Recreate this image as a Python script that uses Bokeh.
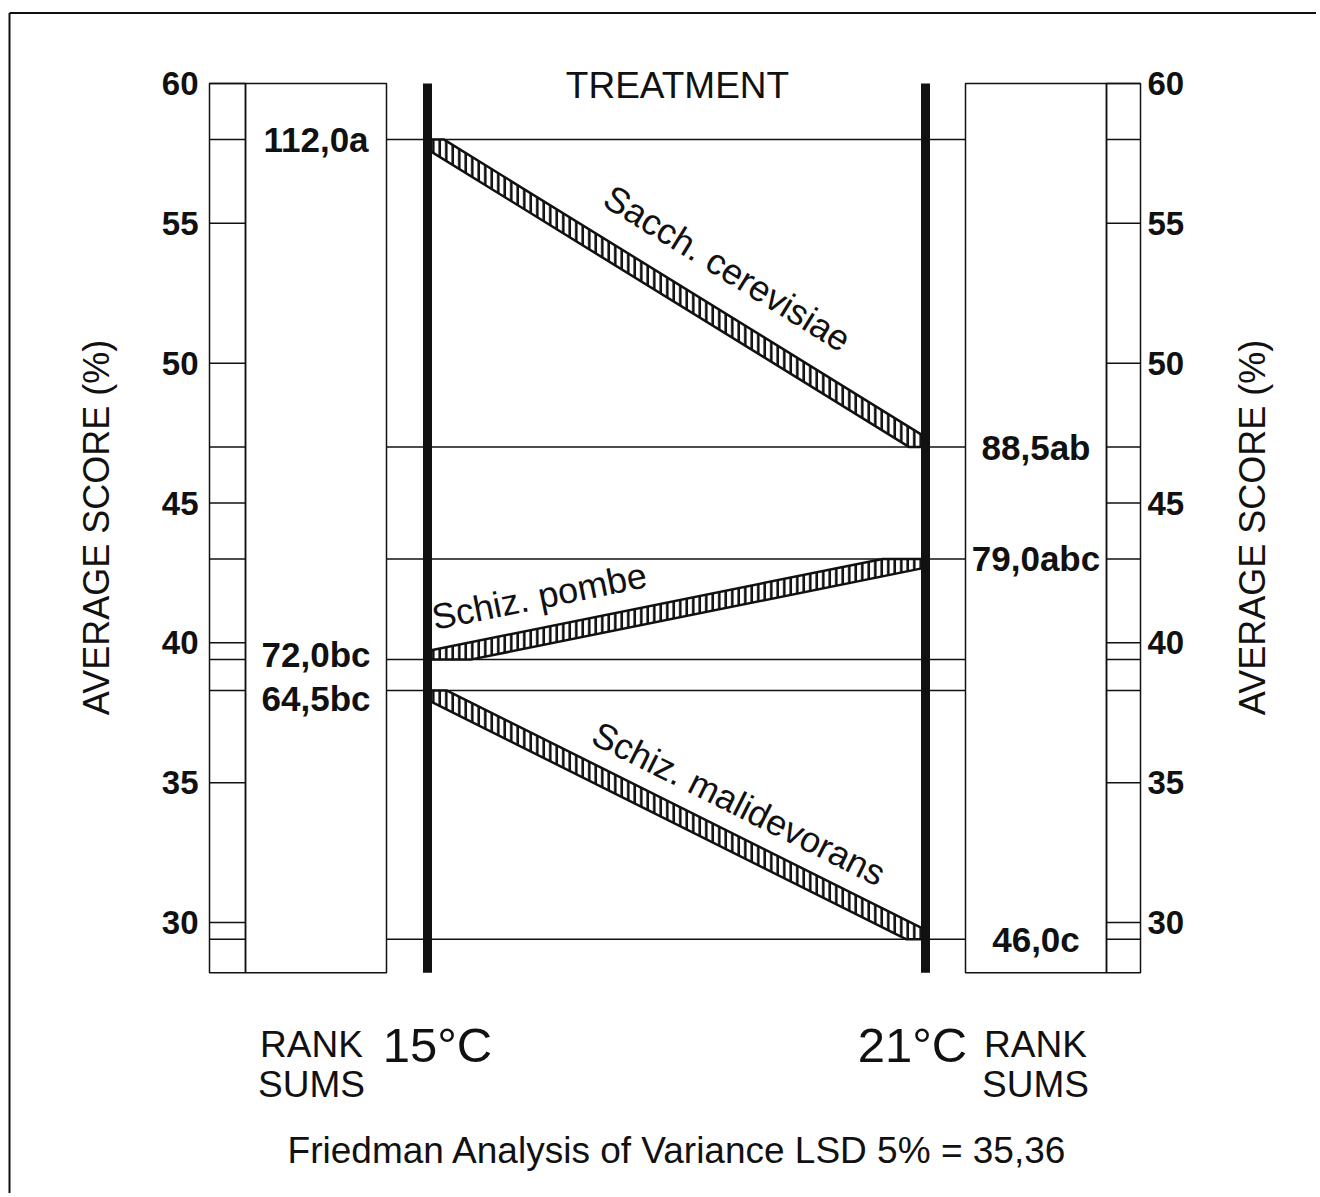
import math
from bokeh.plotting import figure
from bokeh.models import Range1d
from bokeh.core.properties import value
from bokeh.embed import file_html
from bokeh.resources import INLINE

# ---------------- data ----------------
species = ["Sacch.  cerevisiae", "Schiz.  pombe", "Schiz.  malidevorans"]
score_15 = [58.0, 39.4, 38.3]      # average score (%) at 15 °C
score_21 = [47.0, 43.0, 29.4]      # average score (%) at 21 °C
rank_15 = ["112,0a", "72,0bc", "64,5bc"]
rank_21 = ["88,5ab", "79,0abc", "46,0c"]
y_ticks = [30, 35, 40, 45, 50, 55, 60]
y_tick_labels = ["30", "35", "40", "45", "50", "55", "60"]
treatments = ["15°C", "21°C"]
axis_title = "AVERAGE SCORE (%)"
top_title = "TREATMENT"
footer = "Friedman Analysis of Variance LSD 5% = 35,36"

# ---------------- layout ----------------
W, H = 1316, 1193
OFF = 0                       # page pixel where the figure starts
AXIS_MIN, AXIS_MAX = 28.2, 60.0
TOP_PX = 83.0                 # page pixel of AXIS_MAX
PX = (922.0 - 83.0) / 30.0    # pixels per score unit


def ypx(py):
    """page pixel row -> score units (layout helper)"""
    return AXIS_MAX - (py - TOP_PX) / PX


XL0, XL1, XL2 = 209, 245, 386
XR0, XR1, XR2 = 965, 1106, 1140
X15, X21 = 427, 925

FONT = value("Liberation Sans")
BLACK = "#111111"

p = figure(width=W, height=H, x_range=Range1d(OFF, OFF + W),
           y_range=Range1d(ypx(OFF + H), ypx(OFF)),
           output_backend="svg", toolbar_location=None,
           x_axis_location=None, y_axis_location=None,
           min_border=0, outline_line_color=None,
           background_fill_color="white", border_fill_color="white")
p.grid.visible = False

# outer frame (top and left edges)
p.line(x=[9, OFF + W], y=[ypx(12.5), ypx(12.5)], line_color=BLACK, line_width=2)
p.line(x=[9, 9], y=[ypx(12.5), ypx(OFF + H)], line_color=BLACK, line_width=2)

# horizontal level lines for every data value
levels = score_15 + score_21
p.segment(x0=[XL0] * len(levels), x1=[XR2] * len(levels), y0=levels, y1=levels,
          line_color=BLACK, line_width=1.5)

# ticks in the narrow scale columns
p.segment(x0=[XL0] * len(y_ticks), x1=[XL1] * len(y_ticks), y0=y_ticks, y1=y_ticks,
          line_color=BLACK, line_width=1.5)
p.segment(x0=[XR1] * len(y_ticks), x1=[XR2] * len(y_ticks), y0=y_ticks, y1=y_ticks,
          line_color=BLACK, line_width=1.5)

# rank-sum boxes (white, hide the level lines)
p.quad(left=[XL1, XR0], right=[XL2, XR1], top=[AXIS_MAX] * 2, bottom=[AXIS_MIN] * 2,
       fill_color="white", line_color=BLACK, line_width=1.5)
# narrow scale column outlines
p.quad(left=[XL0, XR1], right=[XL1, XR2], top=[AXIS_MAX] * 2, bottom=[AXIS_MIN] * 2,
       fill_color=None, line_color=BLACK, line_width=1.5)

# hatched bands
L = X21 - X15
T_PERP = 17.0
xs, ys, angles = [], [], []
for v1, v2 in zip(score_15, score_21):
    dy = (v1 - v2) * PX                 # screen drop in px
    cosang = L / math.hypot(L, dy)
    hv = (T_PERP / 2.0) / cosang / PX   # vertical half thickness, score units
    s = -1 if v1 > v2 else 1
    frac = hv / abs(v1 - v2)
    xa = X15 + frac * L
    xb = X21 - frac * L
    xs.append([X15, xa, X21, X21, xb, X15])
    ys.append([v1, v1, v2 - s * hv, v2, v2, v1 + s * hv])
    angles.append(-math.atan2(dy, L))
p.patches(xs=xs, ys=ys, fill_color="white", line_color=BLACK, line_width=2.5,
          hatch_pattern="vertical_line", hatch_color=BLACK, hatch_weight=2.6,
          hatch_scale=6.5)

# thick treatment lines
p.segment(x0=[X15, X21], x1=[X15, X21], y0=[AXIS_MAX] * 2, y1=[AXIS_MIN] * 2,
          line_color=BLACK, line_width=9, line_cap="butt")

# species labels along bands
label_frac = [0.56, 0.25, 0.6]
label_off = [48, 40, 38]
lx, ly = [], []
for v1, v2, f, off, ang in zip(score_15, score_21, label_frac, label_off, angles):
    p1 = TOP_PX + (AXIS_MAX - v1) * PX
    p2 = TOP_PX + (AXIS_MAX - v2) * PX
    cx = X15 + f * L
    cy = p1 + f * (p2 - p1)
    ln = math.hypot(L, p2 - p1)
    nx, ny = (p2 - p1) / ln, -L / ln
    lx.append(cx + off * nx)
    ly.append(ypx(cy + off * ny))
p.text(x=lx, y=ly, text=species, angle=angles, text_font=FONT,
       text_font_size="36px", text_align="center", text_baseline="middle",
       text_color=BLACK)

# rank-sum labels
nudge_15 = [0, -5, 8]
nudge_21 = [0, 0, 0]
p.text(x=[(XL1 + XL2) / 2] * 3,
       y=[v - n / PX for v, n in zip(score_15, nudge_15)],
       text=rank_15, text_font=FONT, text_font_size="35px", text_font_style="bold",
       text_align="center", text_baseline="middle", text_color=BLACK)
p.text(x=[(XR0 + XR1) / 2] * 3,
       y=[v - n / PX for v, n in zip(score_21, nudge_21)],
       text=rank_21, text_font=FONT, text_font_size="35px", text_font_style="bold",
       text_align="center", text_baseline="middle", text_color=BLACK)

# tick labels
p.text(x=[198] * len(y_ticks), y=y_ticks, text=y_tick_labels, text_font=FONT,
       text_font_size="33px", text_font_style="bold", text_align="right",
       text_baseline="middle", text_color=BLACK)
p.text(x=[1147] * len(y_ticks), y=y_ticks, text=y_tick_labels, text_font=FONT,
       text_font_size="33px", text_font_style="bold", text_align="left",
       text_baseline="middle", text_color=BLACK)

# axis titles
mid = ypx(527)
p.text(x=[96, 1252], y=[mid, mid], text=[axis_title, axis_title], angle=math.pi / 2,
       text_font=FONT, text_font_size="36px", text_align="center",
       text_baseline="middle", text_color=BLACK)

# top title
p.text(x=[677], y=[ypx(85)], text=[top_title], text_font=FONT, text_font_size="37px",
       text_align="center", text_baseline="middle", text_color=BLACK)

# bottom labels
p.text(x=[437, 912], y=[ypx(1044)] * 2, text=treatments, text_font=FONT,
       text_font_size="49px", text_align="center", text_baseline="alphabetic",
       text_color=BLACK)
p.text(x=[311, 1035, 311, 1035], y=[ypx(1044)] * 2 + [ypx(1084)] * 2,
       text=["RANK", "RANK", "SUMS", "SUMS"], text_font=FONT, text_font_size="37px",
       text_align="center", text_baseline="alphabetic", text_color=BLACK)

# footer
p.text(x=[677], y=[ypx(1150)], text=[footer], text_font=FONT, text_font_size="37px",
       text_align="center", text_baseline="alphabetic", text_color=BLACK)

open("out.html", "w").write(file_html(p, INLINE))
